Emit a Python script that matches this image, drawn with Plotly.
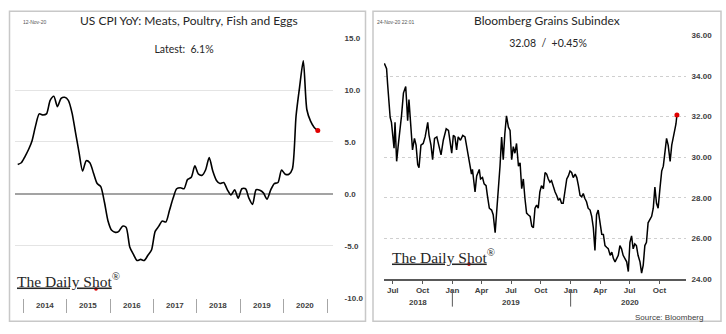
import plotly.graph_objects as go
import pandas as pd

W, H = 726, 334

# ---------------- Left panel: US CPI YoY Meats, Poultry, Fish and Eggs (monthly, %)
cpi_first_month = "2013-11-01"
cpi_values = [
    2.84, 3.0,
    3.6, 4.3, 5.1, 6.6, 7.7, 7.6, 7.7, 9.0, 9.4, 8.4, 9.2, 9.3,
    9.0, 7.8, 6.0, 4.0, 2.2, 3.2, 3.0, 2.0, 1.0, 0.7, -0.8, -2.6,
    -3.5, -3.7, -3.6, -3.1, -3.2, -5.1, -5.8, -6.4, -6.3, -6.4, -5.9, -5.4,
    -3.6, -3.1, -2.6, -2.7, -1.6, -0.4, 0.5, 0.6, 0.5, 1.4, 1.6, 2.7,
    1.9, 1.8, 2.3, 3.5, 2.2, 1.3, 1.0, 1.1, 0.4, -0.1, 0.4, -0.4,
    0.5, 0.5, -0.4, -1.0, 0.4, 0.35, 0.1, -0.5, 0.4, 1.0, 1.1, 2.3,
    1.9, 1.9, 2.4, 7.5, 10.3, 12.8, 8.1, 7.0, 6.4, 6.1,
]
cpi_year_labels = ["2014", "2015", "2016", "2017", "2018", "2019", "2020"]
cpi_y_ticks = [-10, -5, 0, 5, 10, 15]

# ---------------- Right panel: Bloomberg Grains Subindex
grains_dates = [
    "2018-06-05", "2018-06-12", "2018-06-15", "2018-06-20", "2018-06-23", "2018-06-27",
    "2018-07-01", "2018-07-05", "2018-07-08", "2018-07-13", "2018-07-18", "2018-07-23", "2018-07-28",
    "2018-08-03", "2018-08-10", "2018-08-13", "2018-08-16", "2018-08-20", "2018-08-25", "2018-08-31",
    "2018-09-06", "2018-09-11", "2018-09-16", "2018-09-20", "2018-09-26",
    "2018-10-03", "2018-10-09", "2018-10-17", "2018-10-21", "2018-10-27",
    "2018-11-01", "2018-11-07", "2018-11-14", "2018-11-19", "2018-11-27",
    "2018-12-04", "2018-12-13", "2018-12-20", "2018-12-24", "2018-12-30",
    "2019-01-04", "2019-01-09", "2019-01-14", "2019-01-19", "2019-01-26",
    "2019-02-02", "2019-02-09", "2019-02-14", "2019-02-19", "2019-02-24",
    "2019-03-01", "2019-03-04", "2019-03-12", "2019-03-17", "2019-03-25", "2019-03-29",
    "2019-04-04", "2019-04-09", "2019-04-15", "2019-04-19", "2019-04-25",
    "2019-05-02", "2019-05-07", "2019-05-13", "2019-05-18", "2019-05-23", "2019-05-28",
    "2019-06-02", "2019-06-07", "2019-06-12", "2019-06-17", "2019-06-23", "2019-06-28",
    "2019-07-03", "2019-07-08", "2019-07-13", "2019-07-18", "2019-07-24", "2019-07-29",
    "2019-08-03", "2019-08-08", "2019-08-13", "2019-08-18", "2019-08-23", "2019-08-29",
    "2019-09-03", "2019-09-08", "2019-09-13", "2019-09-18", "2019-09-23", "2019-09-28",
    "2019-10-03", "2019-10-09", "2019-10-14", "2019-10-19", "2019-10-24", "2019-10-29",
    "2019-11-03", "2019-11-08", "2019-11-14", "2019-11-19", "2019-11-24", "2019-11-29",
    "2019-12-04", "2019-12-09", "2019-12-15", "2019-12-20", "2019-12-25", "2019-12-30",
    "2020-01-04", "2020-01-09", "2020-01-15", "2020-01-20", "2020-01-25", "2020-01-30",
    "2020-02-04", "2020-02-09", "2020-02-14", "2020-02-19", "2020-02-24",
    "2020-03-01", "2020-03-06", "2020-03-11", "2020-03-16", "2020-03-21", "2020-03-26",
    "2020-04-01", "2020-04-06", "2020-04-11", "2020-04-16", "2020-04-21", "2020-04-26",
    "2020-05-02", "2020-05-07", "2020-05-12", "2020-05-17", "2020-05-22", "2020-05-27",
    "2020-06-01", "2020-06-06", "2020-06-11", "2020-06-17", "2020-06-22", "2020-06-27",
    "2020-07-02", "2020-07-07", "2020-07-12", "2020-07-17", "2020-07-22", "2020-07-27",
    "2020-08-02", "2020-08-07", "2020-08-12", "2020-08-17", "2020-08-22", "2020-08-27",
    "2020-09-02", "2020-09-07", "2020-09-12", "2020-09-17", "2020-09-22", "2020-09-27",
    "2020-10-03", "2020-10-08", "2020-10-13", "2020-10-18", "2020-10-23", "2020-10-28",
    "2020-11-03", "2020-11-08", "2020-11-13", "2020-11-18", "2020-11-21", "2020-11-24",
]
grains_values = [
    34.63, 34.36, 33.64, 32.52, 31.96, 31.72,
    31.08, 30.45, 31.72, 29.80, 30.60, 31.24, 32.04,
    33.16, 33.48, 32.68, 31.80, 32.84, 31.72, 30.36,
    30.93, 30.60, 29.64, 29.48, 30.60,
    30.68, 31.00, 31.72, 31.08, 30.60,
    29.88, 30.93, 31.00, 30.60, 30.12,
    30.84, 31.40, 31.32, 30.76, 30.20,
    31.08, 31.00, 30.36, 31.00, 30.84,
    31.08, 31.00, 30.52, 30.04, 29.56,
    29.17, 29.40, 28.29, 29.08, 29.40, 28.93,
    29.00, 28.69, 28.60, 28.12, 27.49,
    27.40, 27.17, 26.29, 27.33, 28.29, 29.56,
    31.00, 29.88, 31.17, 32.04, 31.48, 31.32,
    29.88, 30.52, 30.20, 30.68, 29.56, 29.73,
    28.45, 28.93, 27.97, 27.25, 27.17, 27.09,
    26.61, 26.53, 27.49, 27.65, 27.49, 28.29,
    28.60, 28.45, 29.25, 29.17, 28.93, 28.77,
    28.85, 28.53, 28.29, 28.12, 27.88, 27.97,
    27.73, 27.73, 28.29, 28.93, 29.08, 29.32,
    29.25, 29.00, 29.17, 29.00, 28.60, 28.12,
    28.05, 28.21, 27.97, 27.81, 27.49,
    27.40, 27.09, 26.53, 25.41, 27.17, 27.40,
    26.69, 26.21, 26.20, 25.65, 25.57, 25.50,
    25.17, 25.33, 25.01, 24.85, 25.01, 25.17,
    25.65, 25.49, 25.17, 25.01, 24.85, 24.37,
    25.81, 26.13, 25.49, 25.73, 25.65, 25.17,
    24.85, 24.29, 24.69, 25.65, 25.81, 26.77,
    26.93, 27.09, 27.49, 28.53, 27.73, 27.49,
    28.53, 29.32, 29.56, 30.28, 30.93, 30.60,
    29.80, 30.60, 30.93, 31.40, 31.64, 32.08,
]
grains_tick_dates = ["2018-07-01", "2018-10-01", "2019-01-01", "2019-04-01", "2019-07-01",
                     "2019-10-01", "2020-01-01", "2020-04-01", "2020-07-01", "2020-10-01"]
grains_tick_labels = ["Jul", "Oct", "Jan", "Apr", "Jul", "Oct", "Jan", "Apr", "Jul", "Oct"]
grains_year_labels = ["2018", "2019", "2020"]
grains_year_label_dates = ["2018-09-17", "2019-07-02", "2020-07-02"]
grains_year_breaks = ["2019-01-01", "2020-01-01"]
grains_y_ticks = [24, 26, 28, 30, 32, 34, 36]

cpi_dates = pd.date_range(cpi_first_month, periods=len(cpi_values), freq="MS") + pd.Timedelta(days=14)


def px_x(p):
    return p / W


def px_y(p):
    return 1 - p / H


TXT = "#404040"
LBL_FONT = "Liberation Sans"
TITLE_FONT = "Lato"

fig = go.Figure()

fig.add_trace(go.Scatter(
    x=cpi_dates, y=cpi_values, mode="lines",
    line=dict(color="black", width=1.6, shape="spline", smoothing=0.7),
    xaxis="x", yaxis="y", hoverinfo="skip", showlegend=False))
fig.add_trace(go.Scatter(
    x=[cpi_dates[-1]], y=[cpi_values[-1]], mode="markers",
    marker=dict(color="#e00000", size=5), xaxis="x", yaxis="y", showlegend=False))

fig.add_trace(go.Scatter(
    x=grains_dates, y=grains_values, mode="lines",
    line=dict(color="black", width=1.5),
    xaxis="x2", yaxis="y2", hoverinfo="skip", showlegend=False))
fig.add_trace(go.Scatter(
    x=[grains_dates[-1]], y=[grains_values[-1]], mode="markers",
    marker=dict(color="#e00000", size=5), xaxis="x2", yaxis="y2", showlegend=False))

cpi_year_ticks = [f"{y}-01-01" for y in range(2014, 2022)]

fig.update_layout(
    width=W, height=H, margin=dict(l=0, r=0, t=0, b=0),
    paper_bgcolor="white", plot_bgcolor="white",
    xaxis=dict(domain=[px_x(15), px_x(333)], type="date",
               range=["2013-10-23", "2021-02-20"],
               tickvals=cpi_year_ticks, ticks="outside", ticklen=14, tickwidth=1,
               tickcolor="#a6a6a6", showticklabels=False, showgrid=False,
               showline=False, zeroline=False, anchor="y"),
    yaxis=dict(domain=[px_y(302), px_y(35)], range=[-10, 15], side="right",
               tickvals=cpi_y_ticks, ticktext=[f"<b>{v:.1f}</b>" for v in cpi_y_ticks],
               tickfont=dict(family=LBL_FONT, size=8, color=TXT),
               ticks="outside", ticklen=9, tickcolor="rgba(0,0,0,0)",
               showgrid=True, gridcolor="#e4e4e4", gridwidth=1,
               zeroline=True, zerolinecolor="#a3a3a3", zerolinewidth=1.5,
               showline=False, anchor="x"),
    xaxis2=dict(domain=[px_x(384), px_x(686)], type="date",
                range=["2018-06-04", "2020-12-22"],
                tickvals=grains_tick_dates, ticktext=[f"<b>{t}</b>" for t in grains_tick_labels],
                tickfont=dict(family=LBL_FONT, size=8, color=TXT),
                ticks="outside", ticklen=3, tickcolor="#595959",
                showline=True, linecolor="#595959", linewidth=1.5,
                showgrid=False, zeroline=False, anchor="y2"),
    yaxis2=dict(domain=[px_y(282.7), px_y(32.3)], range=[24, 36], side="right",
                tickvals=grains_y_ticks, ticktext=[f"<b>{v:.2f}</b>" for v in grains_y_ticks],
                tickfont=dict(family=LBL_FONT, size=8, color=TXT),
                ticks="outside", ticklen=3, tickcolor="rgba(0,0,0,0)",
                showgrid=True, gridcolor="#cfcfcf", gridwidth=1, griddash="dot",
                zeroline=False, showline=False, anchor="x2"),
)

shapes = [
    dict(type="rect", xref="paper", yref="paper", x0=px_x(9.5), x1=px_x(365.5),
         y0=px_y(326), y1=px_y(7.5), line=dict(color="#c8c8c8", width=1.5), layer="below"),
    dict(type="rect", xref="paper", yref="paper", x0=px_x(373), x1=px_x(721),
         y0=px_y(326), y1=px_y(7.5), line=dict(color="#c8c8c8", width=1.5), layer="below"),
]
for d in grains_year_breaks:
    shapes.append(dict(type="line", xref="x2", yref="paper", x0=d, x1=d,
                       y0=px_y(311), y1=px_y(295), line=dict(color="#595959", width=1)))
# red dots of the logos
for cx, cy in [(96, 293), (469, 267.5)]:
    shapes.append(dict(type="circle", xref="paper", yref="paper",
                       x0=px_x(cx - 1.8), x1=px_x(cx + 1.8), y0=px_y(cy + 1.8), y1=px_y(cy - 1.8),
                       fillcolor="#e00000", line=dict(width=0)))
fig.update_layout(shapes=shapes)

ann = []
# Titles
ann.append(dict(text="US CPI YoY: Meats, Poultry, Fish and Eggs", xref="paper", yref="paper",
                x=px_x(188.5), y=px_y(17), showarrow=False,
                font=dict(family=TITLE_FONT, size=12, color="#262626"),
                xanchor="center", yanchor="middle"))
ann.append(dict(text="Bloomberg Grains Subindex", xref="paper", yref="paper",
                x=px_x(547), y=px_y(17), showarrow=False,
                font=dict(family=TITLE_FONT, size=12, color="#262626"),
                xanchor="center", yanchor="middle"))
# Small dates
ann.append(dict(text="12-Nov-20", xref="paper", yref="paper", x=px_x(21), y=px_y(18),
                showarrow=False, font=dict(family=LBL_FONT, size=5, color="#555"),
                xanchor="left", yanchor="middle"))
ann.append(dict(text="24-Nov-20 22:01", xref="paper", yref="paper", x=px_x(375), y=px_y(18),
                showarrow=False, font=dict(family=LBL_FONT, size=5, color="#555"),
                xanchor="left", yanchor="middle"))
# Latest boxes (cover gridline)
ann.append(dict(text="Latest:  6.1%", xref="paper", yref="paper", x=px_x(184), y=px_y(46),
                showarrow=False, font=dict(family=TITLE_FONT, size=10.5, color="#262626"),
                bgcolor="white", width=114, height=28, borderpad=0,
                xanchor="center", yanchor="middle"))
ann.append(dict(text="32.08  /  +0.45%", xref="paper", yref="paper", x=px_x(548), y=px_y(40),
                showarrow=False, font=dict(family=TITLE_FONT, size=10.5, color="#262626"),
                bgcolor="white", width=90, height=24, borderpad=0,
                xanchor="center", yanchor="middle"))
# Logos
logo = ("<span style='text-decoration:underline'>The Daily Shot</span>"
        "<sup>®</sup>")
ann.append(dict(text=logo, xref="paper", yref="paper", x=px_x(15), y=px_y(284),
                showarrow=False, font=dict(family="Liberation Serif", size=15.5, color="#262626"),
                xanchor="left", yanchor="middle"))
ann.append(dict(text=logo, xref="paper", yref="paper", x=px_x(390), y=px_y(259),
                showarrow=False, font=dict(family="Liberation Serif", size=15.5, color="#262626"),
                xanchor="left", yanchor="middle"))
# Source
ann.append(dict(text="Source: Bloomberg", xref="paper", yref="paper", x=px_x(705), y=px_y(322),
                showarrow=False, font=dict(family=LBL_FONT, size=8, color="#404040"),
                xanchor="right", yanchor="middle"))
# Year labels, left panel
for lbl in cpi_year_labels:
    ann.append(dict(text=f"<b>{lbl}</b>", xref="x", yref="paper", x=f"{lbl}-07-02",
                    y=px_y(310), showarrow=False,
                    font=dict(family=LBL_FONT, size=8, color=TXT),
                    xanchor="center", yanchor="middle"))
# Year labels, right panel
for lbl, d in zip(grains_year_labels, grains_year_label_dates):
    ann.append(dict(text=f"<b>{lbl}</b>", xref="x2", yref="paper", x=d,
                    y=px_y(307), showarrow=False,
                    font=dict(family=LBL_FONT, size=8, color=TXT),
                    xanchor="center", yanchor="middle"))
fig.update_layout(annotations=ann)

fig.write_html("out.html")
